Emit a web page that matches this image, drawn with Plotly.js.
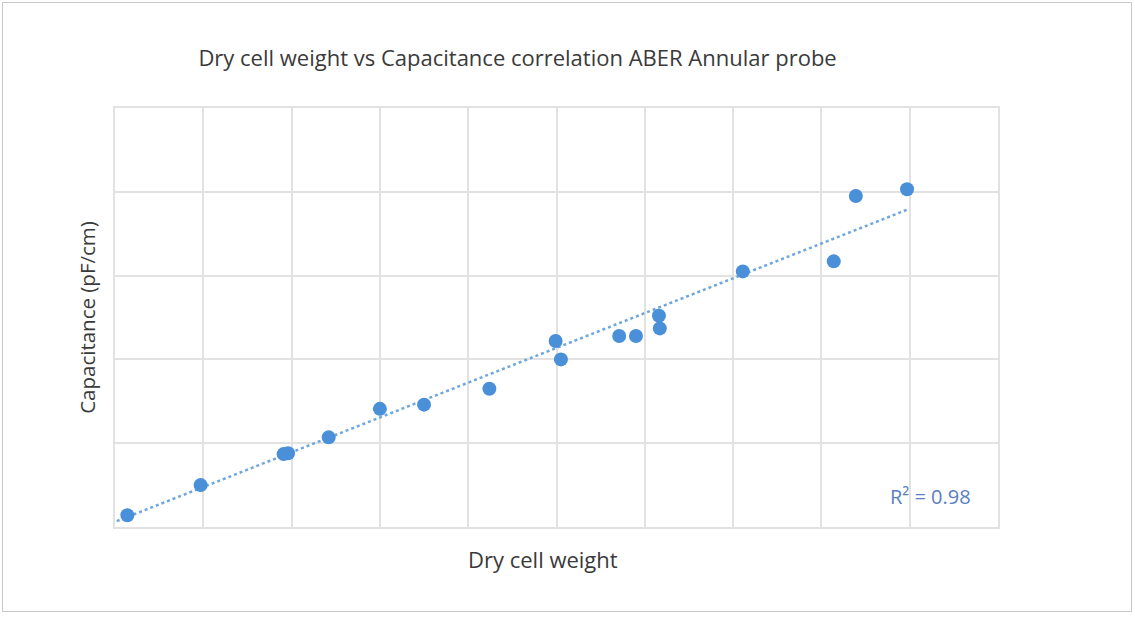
<!DOCTYPE html>
<html>
<head>
<meta charset="utf-8">
<script src="https://cdn.plot.ly/plotly-3.0.1.min.js"></script>
<style>
html,body{margin:0;padding:0;background:#fff;}
#frame{position:absolute;left:2px;top:2px;width:1130px;height:610px;border:1px solid #c8c8c8;box-sizing:border-box;}
#chart{position:absolute;left:0;top:0;width:1135px;height:617px;}
</style>
</head>
<body>
<div id="chart"></div>
<div id="frame"></div>
<script>
const dryCellWeight = [0.14, 0.97, 1.91, 1.96, 2.42, 3.00, 3.50, 4.24, 4.99, 5.05, 5.71, 5.90, 6.16, 6.17, 7.11, 8.14, 8.39, 8.97];
const capacitance   = [0.14, 0.50, 0.87, 0.88, 1.07, 1.41, 1.46, 1.65, 2.22, 2.00, 2.28, 2.28, 2.52, 2.37, 3.05, 3.17, 3.95, 4.03];
const trendX = [0.02, 8.98];
const trendY = [0.07, 3.79];
const rSquaredLabel = "R² = 0.98";
const xTitle = "Dry cell weight";

const font = "'Open Sans', sans-serif";

const traces = [
  {
    x: trendX, y: trendY, mode: "lines", type: "scatter",
    line: {color: "#6ea6de", width: 2.5, dash: "dot"},
    hoverinfo: "skip", showlegend: false
  },
  {
    x: dryCellWeight, y: capacitance, mode: "markers", type: "scatter",
    marker: {color: "#4a90d9", size: 14},
    showlegend: false
  }
];

const layout = {
  width: 1135, height: 617,
  margin: {l: 115, r: 137, t: 108, b: 90},
  paper_bgcolor: "#ffffff", plot_bgcolor: "#ffffff",
  font: {family: font, color: "#3a3a3a"},
  title: {
    text: "Dry cell weight vs Capacitance correlation ABER Annular probe",
    font: {family: font, size: 22, color: "#3a3a3a"},
    x: 0.456, xanchor: "center", y: 0.905, yanchor: "middle"
  },
  xaxis: {
    range: [0, 10], dtick: 1, tick0: 0,
    showticklabels: false, ticks: "",
    showgrid: true, gridcolor: "#e2e2e2", gridwidth: 2,
    zeroline: false,
    showline: true, linecolor: "#e2e2e2", linewidth: 2, mirror: true
  },
  yaxis: {
    range: [0, 5], dtick: 1, tick0: 0,
    showticklabels: false, ticks: "",
    showgrid: true, gridcolor: "#e2e2e2", gridwidth: 2,
    zeroline: false,
    showline: true, linecolor: "#e2e2e2", linewidth: 2, mirror: true,
    title: {text: "Capacitance (pF/cm)", font: {family: font, size: 20.5, color: "#3a3a3a"}, standoff: 12}
  },
  annotations: [
    {
      text: xTitle, xref: "paper", yref: "paper", x: 0.485, y: -0.077,
      showarrow: false, xanchor: "center", yanchor: "middle",
      font: {family: font, size: 22, color: "#3a3a3a"}
    },
    {
      text: rSquaredLabel, xref: "x", yref: "y", x: 9.23, y: 0.36,
      showarrow: false, xanchor: "center", yanchor: "middle",
      font: {family: font, size: 20, color: "#5a80c0"}
    }
  ]
};

Plotly.newPlot("chart", traces, layout, {displayModeBar: false, responsive: false});
</script>
</body>
</html>
